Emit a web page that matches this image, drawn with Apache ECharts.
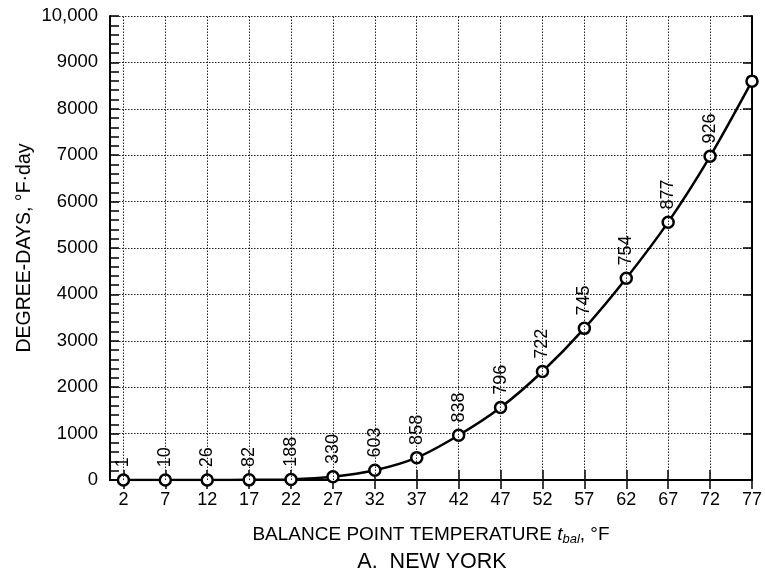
<!DOCTYPE html>
<html><head><meta charset="utf-8">
<script src="https://cdn.jsdelivr.net/npm/echarts@6/dist/echarts.min.js"></script>
<style>html,body{margin:0;padding:0;background:#fff}#c{width:765px;height:574px}</style>
</head><body><div id="c"></div>
<script>
const temps = [2, 7, 12, 17, 22, 27, 32, 37, 42, 47, 52, 57, 62, 67, 72, 77];
const degreeDays = [0, 0, 0, 3, 12, 68, 209, 482, 965, 1562, 2339, 3268, 4348, 5557, 6976, 8596];
const pointLabels = ['1', '10', '26', '82', '188', '330', '603', '858', '838', '796', '722', '745', '754', '877', '926', ''];

const FONT = '"Liberation Sans", Arial, sans-serif';
const chart = echarts.init(document.getElementById('c'), null, {renderer: 'canvas'});
const dotted = {color: '#222', width: 1, type: [1.5, 1.5]};

chart.setOption({
  animation: false,
  backgroundColor: '#fff',
  grid: {left: 110, right: 10, top: 16, bottom: 94, containLabel: false},
  xAxis: [{
    type: 'value', position: 'bottom', min: 0.4, max: 77,
    axisLine: {show: true, lineStyle: {color: '#000', width: 2}},
    axisTick: {show: true, inside: true, length: 10, customValues: temps, lineStyle: {color: '#000', width: 1.5}},
    axisLabel: {show: true, customValues: temps, color: '#000', fontFamily: FONT, fontSize: 18, margin: 11},
    splitLine: {show: false},
    name: '{n|BALANCE POINT TEMPERATURE }{t|t}{s|bal}{n|, °F}',
    nameLocation: 'middle', nameGap: 44, nameMoveOverlap: false,
    nameTextStyle: {
      rich: {
        n: {fontFamily: FONT, fontSize: 19, color: '#000'},
        t: {fontFamily: FONT, fontSize: 19, fontStyle: 'italic', color: '#000'},
        s: {fontFamily: FONT, fontSize: 13, fontStyle: 'italic', color: '#000', verticalAlign: 'bottom', padding: [9, 0, 0, 0]}
      }
    }
  }, {
    type: 'value', position: 'top', min: 0.4, max: 77,
    axisLine: {show: true, lineStyle: {color: '#000', width: 2}},
    axisTick: {show: true, inside: true, length: 9, customValues: temps, lineStyle: {color: '#000', width: 1.5}},
    axisLabel: {show: false},
    splitLine: {show: false}
  }],
  yAxis: [{
    type: 'value', position: 'left', min: 0, max: 10000, interval: 1000,
    axisLine: {show: true, lineStyle: {color: '#000', width: 2}},
    axisTick: {show: true, inside: true, length: 9, lineStyle: {color: '#000', width: 1.5}},
    minorTick: {show: true, splitNumber: 5, length: 9, lineStyle: {color: '#000', width: 1.5}},
    axisLabel: {
      color: '#000', fontFamily: FONT, fontSize: 18.5, margin: 12,
      formatter: v => v === 10000 ? '10,000' : String(v)
    },
    splitLine: {show: true, lineStyle: dotted},
    name: 'DEGREE-DAYS, °F·day', nameLocation: 'middle', nameGap: 75, nameMoveOverlap: false,
    nameTextStyle: {fontFamily: FONT, fontSize: 19.5, color: '#000'}
  }, {
    type: 'value', position: 'right', min: 0, max: 10000, interval: 1000,
    axisLine: {show: true, lineStyle: {color: '#000', width: 2}},
    axisTick: {show: true, inside: true, length: 9, lineStyle: {color: '#000', width: 1.5}},
    axisLabel: {show: false},
    splitLine: {show: false}
  }],
  graphic: [{
    type: 'text',
    style: {text: 'A.  NEW YORK', x: 432, y: 562, align: 'center', verticalAlign: 'middle',
            fontFamily: FONT, fontSize: 21.5, fill: '#000'}
  }],
  series: [{
    type: 'line', xAxisIndex: 0, yAxisIndex: 0, z: 1,
    data: [], silent: true,
    markLine: {
      silent: true, symbol: 'none', label: {show: false},
      lineStyle: dotted,
      data: temps.slice(0, temps.length - 1).map(t => ({xAxis: t}))
    }
  }, {
    type: 'line', xAxisIndex: 0, yAxisIndex: 0, z: 3,
    data: temps.map((t, i) => [t, degreeDays[i]]),
    smooth: 0.3,
    symbol: 'circle', symbolSize: 11,
    itemStyle: {color: '#fff', borderColor: '#000', borderWidth: 2.5},
    lineStyle: {color: '#000', width: 2.5},
    label: {
      show: true, position: 'top', distance: 6, rotate: 90,
      align: 'left', verticalAlign: 'middle',
      fontFamily: FONT, fontSize: 18, color: '#000',
      formatter: p => pointLabels[p.dataIndex]
    }
  }]
});
</script>
</body></html>
